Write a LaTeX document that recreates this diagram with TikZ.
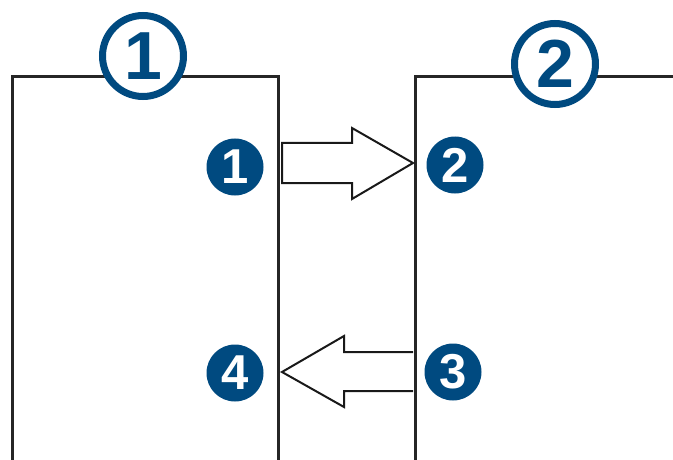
\documentclass[tikz,border=0pt]{standalone}
\usepackage{fontspec}
\setmainfont{Liberation Sans}
\definecolor{garminblue}{RGB}{0,74,128}
\tikzset{
  bignum/.style={circle, draw=garminblue, line width=7pt, fill=white, minimum size=81pt,
    inner sep=0pt, text=garminblue, font=\fontsize{68}{68}\selectfont\bfseries},
  dotnum/.style={circle, fill=garminblue, minimum size=57pt, inner sep=0pt,
    text=white, font=\fontsize{49}{49}\selectfont\bfseries},
  wall/.style={line width=3pt, draw=black!85},
  flow/.style={line width=2pt, draw=black!90, fill=white, line join=miter}
}
\begin{document}
\begin{tikzpicture}[x=1pt, y={(0pt,-1pt)}]
  \useasboundingbox (0,0) rectangle (673,460);
  % the two units
  \draw[wall] (12,460) -- (12,77) -- (278,77) -- (278,460);
  \draw[wall] (415,460) -- (415,77) -- (673,77);
  \node[bignum] (unitA) at (143,56) {1};
  \node[bignum] (unitB) at (555,64) {2};
  % ports
  \node[dotnum] (p1) at (235,167) {1};
  \node[dotnum] (p2) at (455,165) {2};
  \node[dotnum] (p3) at (453,372) {3};
  \node[dotnum] (p4) at (235,373) {4};
  % flows
  \draw[flow] (282,143) -- (352,143) -- (352,128) -- (413,163) -- (352,199) -- (352,183) -- (282,183) -- cycle;
  \draw[flow] (413,352) -- (344,352) -- (344,336) -- (282,372) -- (344,407) -- (344,391) -- (413,391);
\end{tikzpicture}
\end{document}
